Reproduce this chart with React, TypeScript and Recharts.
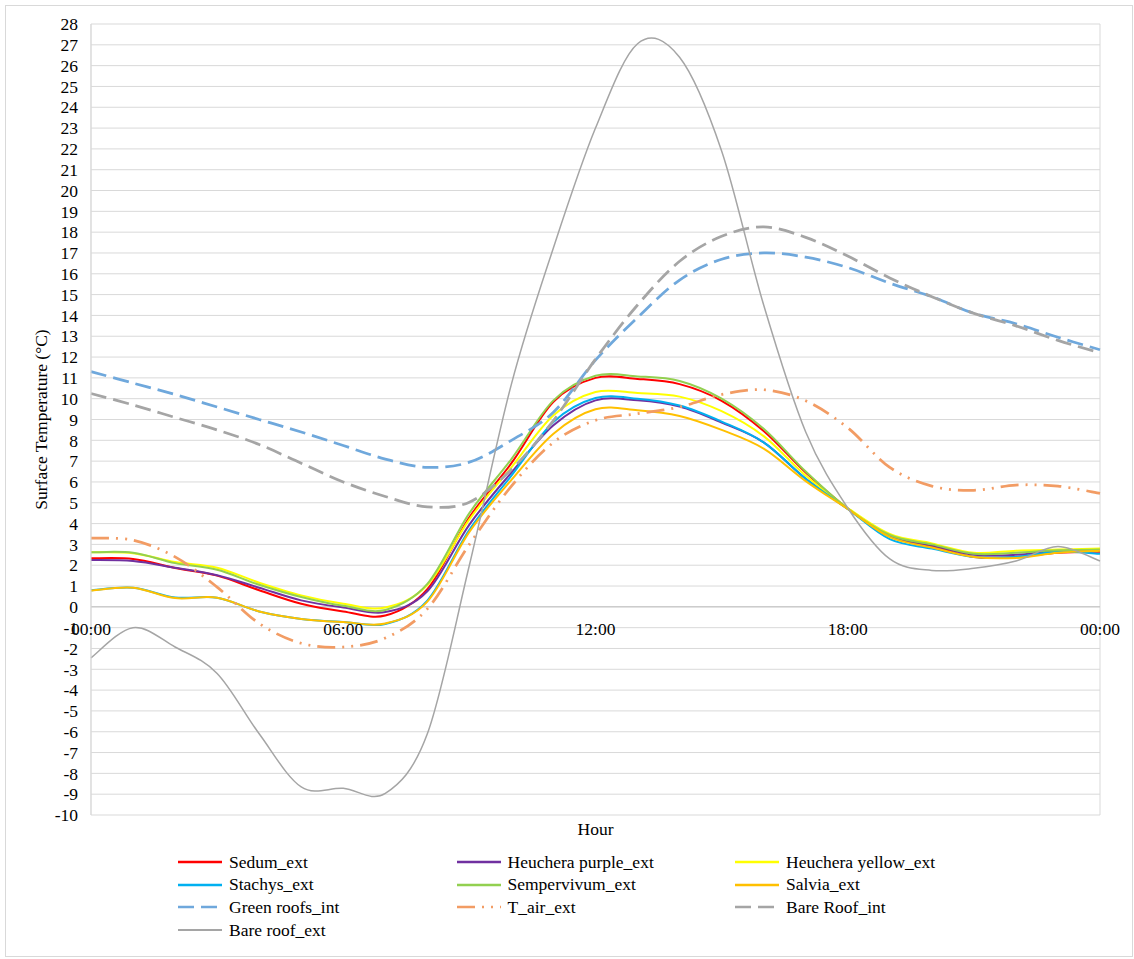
import React from "react";
import {
  LineChart, Line, XAxis, YAxis, CartesianGrid, ReferenceLine, ReferenceDot, Legend,
} from "recharts";

// hourly readings, 00:00 -> 24:00
const hours = [0, 1, 2, 3, 4, 5, 6, 7, 8, 9, 10, 11, 12, 13, 14, 15, 16, 17, 18, 19, 20, 21, 22, 23, 24];

const sedumExt = [2.33, 2.3, 1.87, 1.5, 0.8, 0.15, -0.22, -0.42, 0.85, 4.3, 6.9, 9.85, 11.0, 10.95, 10.7, 9.9, 8.45, 6.45, 4.72, 3.4, 2.9, 2.4, 2.4, 2.6, 2.65];
const heucheraPurpleExt = [2.25, 2.2, 1.88, 1.52, 0.92, 0.31, -0.03, -0.25, 0.75, 3.95, 6.45, 8.72, 9.92, 9.92, 9.62, 8.85, 7.9, 6.15, 4.72, 3.4, 2.95, 2.5, 2.5, 2.7, 2.7];
const heucheraYellowExt = [2.62, 2.58, 2.15, 1.88, 1.16, 0.55, 0.15, -0.03, 1.05, 4.2, 6.7, 9.2, 10.32, 10.27, 10.1, 9.4, 8.2, 6.3, 4.75, 3.5, 3.05, 2.6, 2.7, 2.75, 2.8];
const stachysExt = [0.8, 0.92, 0.45, 0.44, -0.22, -0.58, -0.73, -0.82, 0.3, 3.7, 6.3, 8.88, 10.03, 10.0, 9.67, 8.9, 7.9, 6.15, 4.7, 3.25, 2.8, 2.4, 2.4, 2.65, 2.55];
const sempervivumExt = [2.62, 2.6, 2.1, 1.78, 1.06, 0.47, 0.05, -0.15, 1.1, 4.5, 7.1, 9.92, 11.1, 11.07, 10.85, 10.0, 8.55, 6.5, 4.72, 3.45, 3.0, 2.55, 2.6, 2.72, 2.75];
const salviaExt = [0.78, 0.92, 0.42, 0.44, -0.22, -0.58, -0.73, -0.8, 0.25, 3.6, 6.1, 8.32, 9.49, 9.44, 9.17, 8.5, 7.6, 6.04, 4.7, 3.35, 2.85, 2.4, 2.35, 2.6, 2.7];
const greenRoofsInt = [11.3, 10.75, 10.2, 9.6, 9.0, 8.4, 7.75, 7.1, 6.7, 6.95, 8.0, 9.35, 11.85, 13.9, 15.7, 16.7, 17.0, 16.8, 16.3, 15.55, 14.9, 14.1, 13.6, 12.95, 12.35];
const tAirExt = [3.3, 3.2, 2.4, 0.95, -0.8, -1.75, -1.93, -1.5, -0.1, 3.0, 5.8, 7.9, 8.96, 9.28, 9.6, 10.2, 10.43, 9.9, 8.6, 6.7, 5.8, 5.6, 5.85, 5.8, 5.45];
const bareRoofInt = [10.25, 9.7, 9.1, 8.5, 7.8, 6.9, 6.0, 5.3, 4.8, 5.03, 6.6, 8.95, 11.9, 14.5, 16.6, 17.8, 18.25, 17.75, 16.85, 15.8, 14.9, 14.1, 13.5, 12.8, 12.2];
const bareRoofExt = [-2.45, -1.0, -1.93, -3.2, -6.1, -8.65, -8.72, -8.96, -6.1, 2.0, 10.7, 17.25, 23.0, 27.05, 26.4, 21.9, 14.5, 8.4, 4.75, 2.3, 1.75, 1.85, 2.2, 2.9, 2.2];

const yTicks = [-10, -9, -8, -7, -6, -5, -4, -3, -2, -1, 0, 1, 2, 3, 4, 5, 6, 7, 8, 9, 10, 11, 12, 13, 14, 15, 16, 17, 18, 19, 20, 21, 22, 23, 24, 25, 26, 27, 28];
const xTickHours = [0, 6, 12, 18, 24];
const xTickLabels = ["00:00", "06:00", "12:00", "18:00", "00:00"];

const FONT = "'Liberation Serif', 'Times New Roman', Times, serif";
const FS = 17.5;

const series = [
  { key: "sedum", name: "Sedum_ext", values: sedumExt, color: "#ff0000", width: 2 },
  { key: "hpurple", name: "Heuchera purple_ext", values: heucheraPurpleExt, color: "#7030a0", width: 2 },
  { key: "hyellow", name: "Heuchera yellow_ext", values: heucheraYellowExt, color: "#ffff00", width: 2 },
  { key: "stachys", name: "Stachys_ext", values: stachysExt, color: "#00b0f0", width: 2 },
  { key: "semper", name: "Sempervivum_ext", values: sempervivumExt, color: "#92d050", width: 2 },
  { key: "salvia", name: "Salvia_ext", values: salviaExt, color: "#ffc000", width: 2 },
  { key: "greenInt", name: "Green roofs_int", values: greenRoofsInt, color: "#6fa8dc", width: 2.75, dash: "16 7" },
  { key: "tair", name: "T_air_ext", values: tAirExt, color: "#f29c64", width: 2.75, dash: "18 7 2 7 2 7" },
  { key: "bareInt", name: "Bare Roof_int", values: bareRoofInt, color: "#a5a5a5", width: 2.75, dash: "16 7" },
  { key: "bareExt", name: "Bare roof_ext", values: bareRoofExt, color: "#a5a5a5", width: 1.5 },
];

const data = hours.map((h, i) => {
  const row: Record<string, number> = { h };
  series.forEach((s) => { row[s.key] = s.values[i]; });
  return row;
});

// smoothing similar to the spreadsheet's "smoothed line"
function smoothCurve(context: any) {
  let pts: number[][] = [];
  return {
    areaStart() {},
    areaEnd() {},
    lineStart() { pts = []; },
    lineEnd() {
      const n = pts.length;
      if (!n) return;
      context.moveTo(pts[0][0], pts[0][1]);
      for (let i = 0; i < n - 1; i++) {
        const p0 = pts[Math.max(i - 1, 0)];
        const p1 = pts[i];
        const p2 = pts[i + 1];
        const p3 = pts[Math.min(i + 2, n - 1)];
        context.bezierCurveTo(
          p1[0] + (p2[0] - p0[0]) / 6, p1[1] + (p2[1] - p0[1]) / 6,
          p2[0] - (p3[0] - p1[0]) / 6, p2[1] - (p3[1] - p1[1]) / 6,
          p2[0], p2[1],
        );
      }
    },
    point(x: number, y: number) { pts.push([x, y]); },
  };
}

function YTitle({ viewBox }: any) {
  const cx = viewBox.x + 10;
  const cy = viewBox.y + viewBox.height / 2;
  return (
    <text x={cx} y={cy} transform={`rotate(-90 ${cx} ${cy})`} textAnchor="middle" dominantBaseline="central"
      fill="#000" fontSize={FS} fontFamily={FONT}>
      Surface Temperature (°C)
    </text>
  );
}

function XTitle({ viewBox }: any) {
  const cx = viewBox.x + viewBox.width / 2;
  return (
    <text x={cx} y={viewBox.y + 14} textAnchor="middle" dominantBaseline="central" fill="#000" fontSize={FS} fontFamily={FONT}>
      Hour
    </text>
  );
}

function LegendBox() {
  return (
    <div style={{ position: "relative", width: 1134, height: 100, fontFamily: FONT, fontSize: FS, color: "#000" }}>
      {series.map((s, i) => {
        const col = i % 3;
        const row = Math.floor(i / 3);
        return (
          <div key={s.key} style={{
            position: "absolute", left: 178 + col * 278.5, top: 11 + row * 22.7, height: 22,
            display: "flex", alignItems: "center", whiteSpace: "nowrap",
          }}>
            <svg width={44} height={10} style={{ marginRight: 7 }}>
              <line x1={0} y1={5} x2={44} y2={5} stroke={s.color} strokeWidth={s.width === 1.5 ? 2 : 2.5}
                strokeDasharray={s.dash} />
            </svg>
            <span>{s.name}</span>
          </div>
        );
      })}
    </div>
  );
}

export default function App() {
  return (
    <div style={{ position: "absolute", left: 0, top: 0, width: 1134, height: 959, background: "#fff" }}>
      <div style={{
        position: "absolute", left: 5, top: 5, width: 1128, height: 952,
        border: "1px solid #d9d9d9", boxSizing: "border-box",
      }} />
      <LineChart width={1134} height={959} data={data} margin={{ top: 24, right: 34, bottom: 114, left: 31 }}>
        <CartesianGrid stroke="#d9d9d9" strokeWidth={1} />
        <XAxis dataKey="h" type="number" domain={[0, 24]} ticks={xTickHours} tick={false} tickLine={false}
          axisLine={false} height={30} label={<XTitle />} />
        <YAxis type="number" domain={[-10, 28]} ticks={yTicks} interval={0} width={60} tickLine={false}
          tickMargin={7} axisLine={{ stroke: "#d9d9d9" }}
          tick={{ fill: "#000", fontSize: FS, fontFamily: FONT }} label={<YTitle />} />
        <ReferenceLine y={0} stroke="#bfbfbf" strokeWidth={1} />
        {xTickHours.map((h, i) => (
          <ReferenceDot key={`xt-${i}`} x={h} y={0} r={0} fill="none" stroke="none"
            label={{ value: xTickLabels[i], position: "bottom", offset: 16, fill: "#000", fontSize: FS, fontFamily: FONT }} />
        ))}
        {series.map((s) => (
          <Line key={s.key} dataKey={s.key} name={s.name} type={smoothCurve as any} stroke={s.color}
            strokeWidth={s.width} strokeDasharray={s.dash} dot={false} activeDot={false}
            isAnimationActive={false} />
        ))}
        <Legend layout="horizontal" verticalAlign="middle" align="center" content={<LegendBox />}
          wrapperStyle={{ left: 0, top: 840, width: 1134, height: 100 }} />
      </LineChart>
    </div>
  );
}
